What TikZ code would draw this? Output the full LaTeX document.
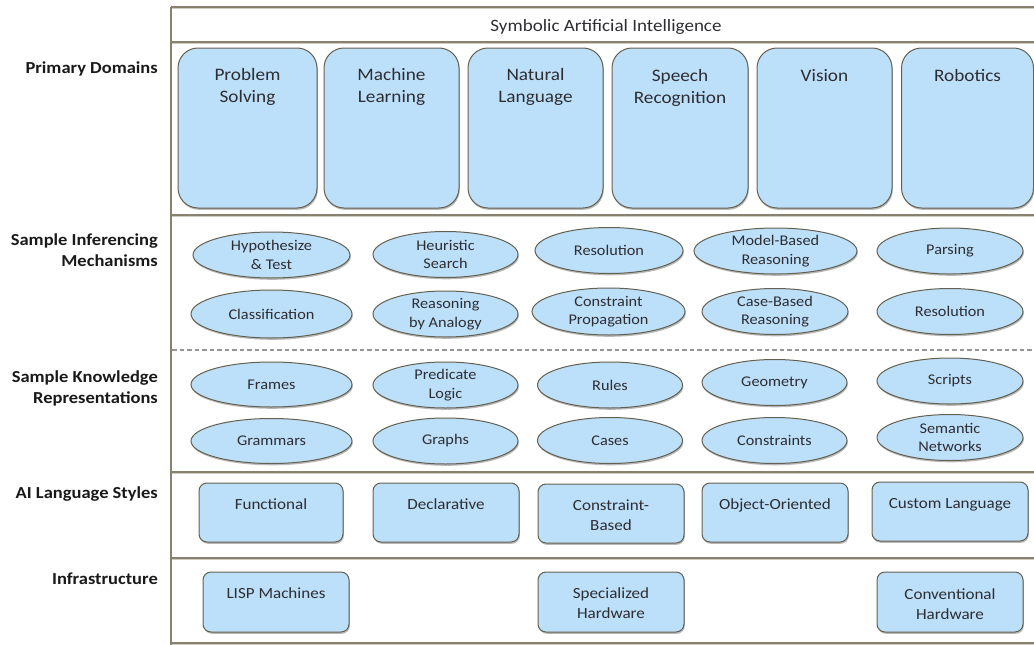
\documentclass[tikz,border=0pt]{standalone}
\usepackage{fontspec}
\setmainfont{Carlito}[FakeStretch=1.1]
\usetikzlibrary{shapes.geometric,shadows}
\definecolor{boxfill}{RGB}{189,224,250}
\definecolor{boxline}{RGB}{100,96,80}
\definecolor{frameline}{RGB}{135,129,110}
\definecolor{frameshade}{RGB}{205,203,196}
\definecolor{dashline}{RGB}{150,150,148}
\definecolor{txt}{RGB}{45,45,50}
\definecolor{sidetxt}{RGB}{25,25,25}

\begin{document}
\begin{tikzpicture}[x=1pt,y=-1pt,
  softshadow/.style={drop shadow={shadow xshift=0.8pt,shadow yshift=-1.8pt,opacity=0.28,fill=black}},
  domainbox/.style={draw=boxline,line width=1pt,fill=boxfill,rounded corners=20pt,inner sep=0pt,softshadow},
  domaintext/.style={font=\fontsize{17.5}{22}\selectfont,text=txt,align=center,inner sep=0pt,anchor=north},
  oval/.style={ellipse,draw=boxline,line width=1pt,fill=boxfill,inner sep=0pt,minimum height=46pt,
    align=center,font=\fontsize{14.8}{18.5}\selectfont,text=txt,softshadow},
  stylebox/.style={draw=boxline,line width=1pt,fill=boxfill,rounded corners=8pt,inner sep=0pt,
    minimum width=146pt,minimum height=59pt,softshadow},
  boxtext/.style={font=\fontsize{15.5}{20}\selectfont,text=txt,align=center,inner sep=0pt,anchor=north},
  sidelabel/.style={font=\bfseries\fontsize{16.8}{20.5}\selectfont,text=sidetxt,align=right,inner sep=0pt,anchor=east},
  frame/.style={draw=frameline,line width=1.2pt},
  frameshadow/.style={draw=frameshade,line width=1pt},
]
\useasboundingbox (0,0) rectangle (1034,645);

% ---- frame of the layer table ----
\foreach \yy in {7,42,215,472,558,643}{
  \draw[frameshadow] (172,\yy+1.6) -- (1034,\yy+1.6);
  \draw[frame] (171,\yy) -- (1034,\yy);
}
\draw[frame] (171,7) -- (171,645);
\draw[dashline,line width=1.6pt,dash pattern=on 4.5pt off 3pt] (172,350) -- (1034,350);

\node[font=\fontsize{17.3}{20}\selectfont,text=txt,inner sep=0pt] (title) at (606,27) {Symbolic Artificial Intelligence};

% ---- row labels ----
\node[sidelabel] (lab-dom) at (158,68.5) {Primary Domains};
\node[sidelabel] (lab-inf) at (158,250) {Sample Inferencing\\Mechanisms};
\node[sidelabel] (lab-kr)  at (158,388.5) {Sample Knowledge\\Representations};
\node[sidelabel] (lab-lang) at (158,494.5) {AI Language Styles};
\node[sidelabel] (lab-infra) at (158,578.5) {Infrastructure};

% ---- primary domains ----
\node[domainbox,minimum width=139pt,minimum height=160pt] (ps) at (247.5,128) {};
\node[domainbox,minimum width=135pt,minimum height=160pt] (ml) at (391.5,128) {};
\node[domainbox,minimum width=135pt,minimum height=160pt] (nl) at (535.5,128) {};
\node[domainbox,minimum width=136pt,minimum height=160pt] (sr) at (680,128) {};
\node[domainbox,minimum width=135pt,minimum height=160pt] (vi) at (824.5,128) {};
\node[domainbox,minimum width=132pt,minimum height=160pt] (ro) at (967.5,128) {};
\node[domaintext] (ps-t) at ([yshift=-20.5pt]ps.north) {Problem\\Solving};
\node[domaintext] (ml-t) at ([yshift=-20.5pt]ml.north) {Machine\\Learning};
\node[domaintext] (nl-t) at ([yshift=-20.5pt]nl.north) {Natural\\Language};
\node[domaintext] (sr-t) at ([yshift=-21.5pt]sr.north) {Speech\\Recognition};
\node[domaintext] (vi-t) at ([yshift=-21.5pt]vi.north) {Vision};
\node[domaintext] (ro-t) at ([yshift=-21.5pt]ro.north) {Robotics};

% ---- inferencing mechanisms ----
\node[oval,minimum width=157pt] (hyp) at (271.5,255) {Hypothesize\\\& Test};
\node[oval,minimum width=145pt] (heu) at (445.5,254.5) {Heuristic\\Search};
\node[oval,minimum width=148pt] (res1) at (609,250.5) {Resolution};
\node[oval,minimum width=163pt] (mbr) at (775.5,251) {Model-Based\\Reasoning};
\node[oval,minimum width=146pt] (par) at (950,251) {Parsing};
\node[oval,minimum width=161pt,minimum height=48pt] (cls) at (271.5,314) {Classification};
\node[oval,minimum width=145pt] (rba) at (445.5,314) {Reasoning\\by Analogy};
\node[oval,minimum width=153pt,minimum height=47pt] (cpr) at (608.5,311.5) {Constraint\\Propagation};
\node[oval,minimum width=146pt] (cbr) at (775,311.5) {Case-Based\\Reasoning};
\node[oval,minimum width=146pt] (res2) at (950,311.5) {Resolution};

% ---- knowledge representations ----
\node[oval,minimum width=161pt,minimum height=45pt] (frm) at (271.5,384.5) {Frames};
\node[oval,minimum width=145pt] (pl) at (445.5,385) {Predicate\\Logic};
\node[oval,minimum width=145pt] (rul) at (610,385) {Rules};
\node[oval,minimum width=145pt] (geo) at (774.5,382.5) {Geometry};
\node[oval,minimum width=146pt] (scr) at (950,381) {Scripts};
\node[oval,minimum width=161pt,minimum height=45pt] (gra) at (271.5,441) {Grammars};
\node[oval,minimum width=145pt] (grp) at (445.5,441) {Graphs};
\node[oval,minimum width=145pt] (cas) at (610,440.5) {Cases};
\node[oval,minimum width=145pt] (cons) at (774.5,440.5) {Constraints};
\node[oval,minimum width=146pt] (sem) at (950,437.5) {Semantic\\Networks};

% ---- language styles ----
\node[stylebox,minimum width=144pt] (fun) at (271,512.5) {};
\node[stylebox] (dec) at (446,512.5) {};
\node[stylebox] (cb) at (611,513.5) {};
\node[stylebox] (oo) at (775,512.5) {};
\node[stylebox,minimum width=156pt] (cl) at (950,511.5) {};
\node[boxtext] (fun-t) at ([yshift=-16.5pt]fun.north) {Functional};
\node[boxtext] (dec-t) at ([yshift=-16.5pt]dec.north) {Declarative};
\node[boxtext] (cb-t) at ([yshift=-16pt]cb.north) {Constraint-\\Based};
\node[boxtext] (oo-t) at ([yshift=-16.5pt]oo.north) {Object-Oriented};
\node[boxtext] (cl-t) at ([yshift=-16.5pt]cl.north) {Custom Language};

% ---- infrastructure ----
\node[stylebox,minimum height=60pt] (lisp) at (276,602) {};
\node[stylebox,minimum height=60pt] (spec) at (611,602) {};
\node[stylebox,minimum height=60pt] (conv) at (950,602) {};
\node[boxtext] (lisp-t) at ([yshift=-16pt]lisp.north) {LISP Machines};
\node[boxtext] (spec-t) at ([yshift=-16pt]spec.north) {Specialized\\Hardware};
\node[boxtext] (conv-t) at ([yshift=-17.5pt]conv.north) {Conventional\\Hardware};
\end{tikzpicture}
\end{document}
